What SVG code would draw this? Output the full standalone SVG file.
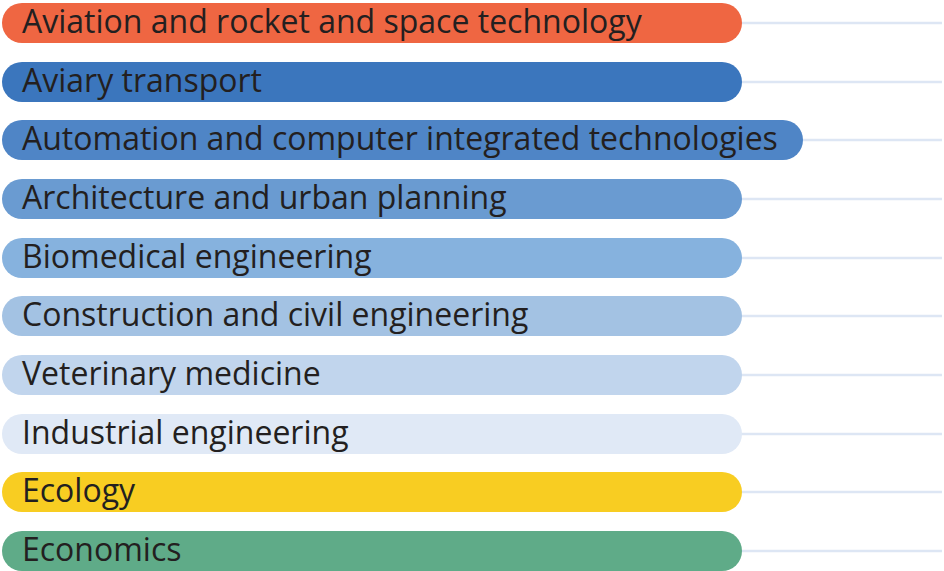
<svg xmlns="http://www.w3.org/2000/svg" width="944" height="571" viewBox="0 0 944 571">
<style>
.bar{stroke:none}
.lbl{font-family:"Open Sans","Noto Sans",sans-serif;font-size:32px;fill:#231f20}
.ln{stroke:#dde6f4;stroke-width:2.5;fill:none}
</style>
<rect width="944" height="571" fill="#ffffff"/>
<g id="connectors">
<line class="ln" x1="740" y1="23" x2="942" y2="23"/>
<line class="ln" x1="740" y1="82" x2="942" y2="82"/>
<line class="ln" x1="800" y1="140" x2="942" y2="140"/>
<line class="ln" x1="740" y1="199" x2="942" y2="199"/>
<line class="ln" x1="740" y1="258" x2="942" y2="258"/>
<line class="ln" x1="740" y1="316" x2="942" y2="316"/>
<line class="ln" x1="740" y1="375" x2="942" y2="375"/>
<line class="ln" x1="740" y1="434" x2="942" y2="434"/>
<line class="ln" x1="740" y1="492" x2="942" y2="492"/>
<line class="ln" x1="740" y1="551" x2="942" y2="551"/>
</g>
<g id="n1"><rect class="bar" x="2" y="3" width="740" height="40" rx="20" fill="#ef6642"/><text class="lbl" x="22" y="33">Aviation and rocket and space technology</text></g>
<g id="n2"><rect class="bar" x="2" y="62" width="740" height="40" rx="20" fill="#3b76bd"/><text class="lbl" x="22" y="92">Aviary transport</text></g>
<g id="n3"><rect class="bar" x="2" y="120" width="801" height="40" rx="20" fill="#4f85c6"/><text class="lbl" x="22" y="150">Automation and computer integrated technologies</text></g>
<g id="n4"><rect class="bar" x="2" y="179" width="740" height="40" rx="20" fill="#6a9bd1"/><text class="lbl" x="22" y="209">Architecture and urban planning</text></g>
<g id="n5"><rect class="bar" x="2" y="238" width="740" height="40" rx="20" fill="#86b2de"/><text class="lbl" x="22" y="268">Biomedical engineering</text></g>
<g id="n6"><rect class="bar" x="2" y="296" width="740" height="40" rx="20" fill="#a3c2e3"/><text class="lbl" x="22" y="326">Construction and civil engineering</text></g>
<g id="n7"><rect class="bar" x="2" y="355" width="740" height="40" rx="20" fill="#c1d5ed"/><text class="lbl" x="22" y="385">Veterinary medicine</text></g>
<g id="n8"><rect class="bar" x="2" y="414" width="740" height="40" rx="20" fill="#e0e9f6"/><text class="lbl" x="22" y="444">Industrial engineering</text></g>
<g id="n9"><rect class="bar" x="2" y="472" width="740" height="40" rx="20" fill="#f8cd22"/><text class="lbl" x="22" y="502">Ecology</text></g>
<g id="n10"><rect class="bar" x="2" y="531" width="740" height="40" rx="20" fill="#5fab88"/><text class="lbl" x="22" y="561">Economics</text></g>
</svg>
